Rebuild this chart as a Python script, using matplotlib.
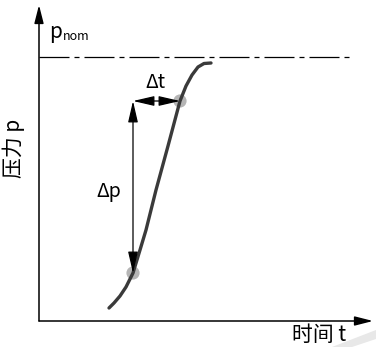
import matplotlib
matplotlib.use("Agg")
import matplotlib.pyplot as plt
from matplotlib.patches import Polygon

plt.rcParams['font.family'] = ['Noto Sans CJK SC', 'DejaVu Sans']

# Data (axis units: origin at the axis corner)
curve_t = [70, 75, 81, 87, 94, 101, 107, 117, 129, 141, 147, 153, 159, 165, 172]
curve_p = [13, 18, 25, 34, 48, 71, 91, 131, 175, 220, 235, 246, 254, 257.5, 258]
p_nom = 264
mark_t = [94, 141]
mark_p = [48, 220]
t_max = 334
p_max = 316
y_label = "压力 p"
x_label = "时间 t"

W, H = 376, 347
fig = plt.figure(figsize=(W / 100, H / 100), dpi=100)
fig.patch.set_facecolor('white')

ox, oy = 39, 321
ax = fig.add_axes([ox / W, (H - oy) / H, t_max / W, p_max / H])
ax.set_xlim(0, t_max)
ax.set_ylim(0, p_max)
ax.axis('off')

# axes arrows
ax.annotate('', xy=(0, p_max), xytext=(0, 0),
            arrowprops=dict(arrowstyle='-|>,head_length=1.1,head_width=0.28',
                            lw=1.1, color='black', shrinkA=0, shrinkB=0),
            annotation_clip=False)
ax.annotate('', xy=(t_max, 0), xytext=(0, 0),
            arrowprops=dict(arrowstyle='-|>,head_length=1.1,head_width=0.28',
                            lw=1.1, color='black', shrinkA=0, shrinkB=0),
            annotation_clip=False)

# nominal pressure dash-dot line
ax.plot([0, 311], [p_nom, p_nom], color='black', lw=0.9,
        ls=(0, (24, 4, 4, 4)), clip_on=False)

# curve
ax.plot(curve_t, curve_p, color='#3a3a3a', lw=2.4, solid_capstyle='round',
        clip_on=False, zorder=3)

# marked points
ax.scatter(mark_t, mark_p, s=90, color='#a8a8a8', alpha=0.85, zorder=2,
           edgecolors='none', clip_on=False)

# delta arrows
ax.annotate('', xy=(mark_t[0], mark_p[1]), xytext=(mark_t[0], mark_p[0]),
            arrowprops=dict(arrowstyle='<|-|>,head_length=1.3,head_width=0.3',
                            lw=0.9, color='black', shrinkA=0, shrinkB=0),
            zorder=4)
ax.annotate('', xy=(mark_t[1], mark_p[1]), xytext=(mark_t[0], mark_p[1]),
            arrowprops=dict(arrowstyle='<|-|>,head_length=1.3,head_width=0.3',
                            lw=0.9, color='black', shrinkA=0, shrinkB=0),
            zorder=4)

# texts
ax.text(116, 239, 'Δt', fontsize=14, ha='center', va='center')
ax.text(70, 129, 'Δp', fontsize=14, ha='center', va='center')
ax.text(10, 283, 'p', fontsize=15, ha='left', va='baseline')
ax.text(24, 281, 'nom', fontsize=9, ha='left', va='baseline')

fig.text(14 / W, 1 - 148 / H, y_label, rotation=90, fontsize=15,
         ha='center', va='center')
fig.text(319 / W, 1 - 335 / H, x_label, fontsize=15, ha='center', va='center')

# faint gray streak bottom right
fig.patches.append(Polygon([(332 / W, 0), (1, 1 - 330 / H), (1, 1 - 339 / H),
                            (352 / W, 0)], closed=True,
                           transform=fig.transFigure, facecolor='#e8e8e8',
                           edgecolor='none', zorder=0))

fig.savefig('out.png', dpi=100, facecolor='white')
